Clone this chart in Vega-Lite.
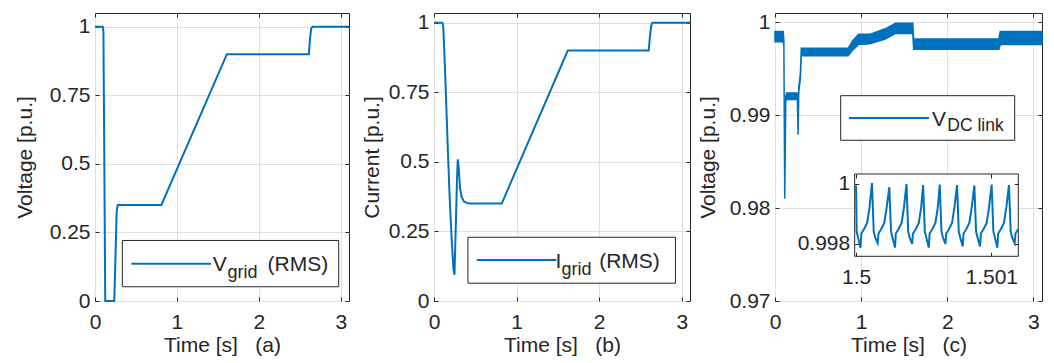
{
  "$schema": "https://vega.github.io/schema/vega-lite/v6.json",
  "background": "white",
  "padding": {"left": 13, "top": 10, "right": 4, "bottom": 2},
  "bounds": "flush",
  "spacing": 85,
  "config": {
    "font": "Liberation Sans",
    "view": {"stroke": "#262626", "strokeWidth": 1},
    "axis": {
      "labelFont": "Liberation Sans", "titleFont": "Liberation Sans",
      "labelFontSize": 21, "titleFontSize": 21, "titleFontWeight": "normal",
      "labelColor": "#262626", "titleColor": "#262626",
      "tickColor": "#262626", "tickSize": -4, "tickWidth": 1,
      "domain": false, "grid": false, "gridColor": "#dfdfdf", "gridWidth": 1,
      "labelFlush": false, "labelOverlap": false, "labelBound": false,
      "labelExpr": "format(datum.value, '~g')"
    },
    "axisBottom": {"labelPadding": 14, "titlePadding": 2},
    "axisLeft": {"labelPadding": 9},
    "axisTop": {"labels": false},
    "axisRight": {"labels": false}
  },
  "hconcat": [
    {
      "width": 254, "height": 288,
      "data": {"values": [
        {"t": 0, "v": 1}, {"t": 0.095, "v": 1}, {"t": 0.103, "v": 0.98}, {"t": 0.125, "v": 0},
        {"t": 0.235, "v": 0}, {"t": 0.265, "v": 0.33}, {"t": 0.277, "v": 0.35}, {"t": 0.81, "v": 0.35},
        {"t": 1.61, "v": 0.9}, {"t": 2.61, "v": 0.9}, {"t": 2.625, "v": 0.96}, {"t": 2.64, "v": 0.995},
        {"t": 2.655, "v": 1}, {"t": 3.1, "v": 1}
      ]},
      "layer": [
        {
          "mark": {"type": "line", "color": "#0072BD", "strokeWidth": 2},
          "encoding": {
            "x": {"field": "t", "type": "quantitative", "scale": {"domain": [0, 3.1], "nice": false, "zero": false},
                  "axis": {"orient": "bottom", "values": [0, 1, 2, 3], "grid": true, "title": "Time [s]\u00a0\u00a0\u00a0(a)"}},
            "y": {"field": "v", "type": "quantitative", "scale": {"domain": [0, 1.05], "nice": false, "zero": false},
                  "axis": {"orient": "left", "values": [0, 0.25, 0.5, 0.75, 1], "grid": true, "title": "Voltage [p.u.]", "titlePadding": 14}}
          }
        },
        {
          "mark": {"type": "line", "opacity": 0},
          "encoding": {
            "x": {"field": "t", "type": "quantitative", "axis": {"orient": "top", "values": [0, 1, 2, 3], "title": null}},
            "y": {"field": "v", "type": "quantitative", "axis": {"orient": "right", "values": [0, 0.25, 0.5, 0.75, 1], "title": null}}
          }
        },
        {
          "data": {"values": [{}]},
          "mark": {"type": "rect", "fill": "white", "stroke": "#262626", "strokeWidth": 1},
          "encoding": {
            "x": {"datum": 0.334, "type": "quantitative", "axis": null}, "x2": {"datum": 2.974},
            "y": {"datum": 0.052, "type": "quantitative", "axis": null}, "y2": {"datum": 0.2207}
          }
        },
        {
          "data": {"values": [{}]},
          "mark": {"type": "rule", "color": "#0072BD", "strokeWidth": 2},
          "encoding": {"x": {"datum": 0.444, "type": "quantitative", "axis": null}, "x2": {"datum": 1.416}, "y": {"datum": 0.1356, "type": "quantitative", "axis": null}}
        },
        {
          "data": {"values": [{}]},
          "mark": {"type": "text", "text": "V", "align": "left", "baseline": "alphabetic", "fontSize": 21, "color": "#262626"},
          "encoding": {"x": {"datum": 1.436, "type": "quantitative", "axis": null}, "y": {"datum": 0.109, "type": "quantitative", "axis": null}}
        },
        {
          "data": {"values": [{}]},
          "mark": {"type": "text", "text": "grid", "align": "left", "baseline": "alphabetic", "fontSize": 18, "color": "#262626"},
          "encoding": {"x": {"datum": 1.616, "type": "quantitative", "axis": null}, "y": {"datum": 0.084, "type": "quantitative", "axis": null}}
        },
        {
          "data": {"values": [{}]},
          "mark": {"type": "text", "text": "(RMS)", "align": "left", "baseline": "alphabetic", "fontSize": 21, "color": "#262626"},
          "encoding": {"x": {"datum": 2.105, "type": "quantitative", "axis": null}, "y": {"datum": 0.109, "type": "quantitative", "axis": null}}
        }
      ]
    },
    {
      "width": 256, "height": 288,
      "data": {"values": [
        {"t": 0, "v": 1}, {"t": 0.096, "v": 1}, {"t": 0.105, "v": 0.998}, {"t": 0.112, "v": 0.987},
        {"t": 0.136, "v": 0.812}, {"t": 0.164, "v": 0.572}, {"t": 0.192, "v": 0.355}, {"t": 0.216, "v": 0.211},
        {"t": 0.236, "v": 0.114}, {"t": 0.248, "v": 0.094}, {"t": 0.264, "v": 0.271}, {"t": 0.28, "v": 0.451},
        {"t": 0.288, "v": 0.509}, {"t": 0.3, "v": 0.475}, {"t": 0.316, "v": 0.403}, {"t": 0.336, "v": 0.373},
        {"t": 0.364, "v": 0.357}, {"t": 0.424, "v": 0.35}, {"t": 0.82, "v": 0.35}, {"t": 1.62, "v": 0.9},
        {"t": 2.6, "v": 0.9}, {"t": 2.615, "v": 0.95}, {"t": 2.63, "v": 0.99}, {"t": 2.645, "v": 1}, {"t": 3.1, "v": 1}
      ]},
      "layer": [
        {
          "mark": {"type": "line", "color": "#0072BD", "strokeWidth": 2},
          "encoding": {
            "x": {"field": "t", "type": "quantitative", "scale": {"domain": [0, 3.1], "nice": false, "zero": false},
                  "axis": {"orient": "bottom", "values": [0, 1, 2, 3], "grid": true, "title": "Time [s]\u00a0\u00a0\u00a0(b)"}},
            "y": {"field": "v", "type": "quantitative", "scale": {"domain": [0, 1.035], "nice": false, "zero": false},
                  "axis": {"orient": "left", "values": [0, 0.25, 0.5, 0.75, 1], "grid": true, "title": "Current [p.u.]", "titlePadding": 6}}
          }
        },
        {
          "mark": {"type": "line", "opacity": 0},
          "encoding": {
            "x": {"field": "t", "type": "quantitative", "axis": {"orient": "top", "values": [0, 1, 2, 3], "title": null}},
            "y": {"field": "v", "type": "quantitative", "axis": {"orient": "right", "values": [0, 0.25, 0.5, 0.75, 1], "title": null}}
          }
        },
        {
          "data": {"values": [{}]},
          "mark": {"type": "rect", "fill": "white", "stroke": "#262626", "strokeWidth": 1},
          "encoding": {
            "x": {"datum": 0.411, "type": "quantitative", "axis": null}, "x2": {"datum": 2.924},
            "y": {"datum": 0.064, "type": "quantitative", "axis": null}, "y2": {"datum": 0.229}
          }
        },
        {
          "data": {"values": [{}]},
          "mark": {"type": "rule", "color": "#0072BD", "strokeWidth": 2},
          "encoding": {"x": {"datum": 0.517, "type": "quantitative", "axis": null}, "x2": {"datum": 1.482}, "y": {"datum": 0.147, "type": "quantitative", "axis": null}}
        },
        {
          "data": {"values": [{}]},
          "mark": {"type": "text", "text": "I", "align": "left", "baseline": "alphabetic", "fontSize": 21, "color": "#262626"},
          "encoding": {"x": {"datum": 1.47, "type": "quantitative", "axis": null}, "y": {"datum": 0.118, "type": "quantitative", "axis": null}}
        },
        {
          "data": {"values": [{}]},
          "mark": {"type": "text", "text": "grid", "align": "left", "baseline": "alphabetic", "fontSize": 18, "color": "#262626"},
          "encoding": {"x": {"datum": 1.545, "type": "quantitative", "axis": null}, "y": {"datum": 0.094, "type": "quantitative", "axis": null}}
        },
        {
          "data": {"values": [{}]},
          "mark": {"type": "text", "text": "(RMS)", "align": "left", "baseline": "alphabetic", "fontSize": 21, "color": "#262626"},
          "encoding": {"x": {"datum": 2.0, "type": "quantitative", "axis": null}, "y": {"datum": 0.118, "type": "quantitative", "axis": null}}
        }
      ]
    },
    {
      "width": 267, "height": 288,
      "resolve": {"scale": {"x": "independent", "y": "independent"}},
      "layer": [
        {
          "data": {"values": [
            {"t": 0, "lo": 0.9979, "hi": 0.999}, {"t": 0.095, "lo": 0.9979, "hi": 0.999},
            {"t": 0.103, "lo": 0.9975, "hi": 0.998}, {"t": 0.113, "lo": 0.981, "hi": 0.9812},
            {"t": 0.125, "lo": 0.9915, "hi": 0.992}, {"t": 0.135, "lo": 0.9917, "hi": 0.9924},
            {"t": 0.26, "lo": 0.9917, "hi": 0.9924}, {"t": 0.268, "lo": 0.9879, "hi": 0.9882},
            {"t": 0.276, "lo": 0.9925, "hi": 0.993}, {"t": 0.295, "lo": 0.994, "hi": 0.9945},
            {"t": 0.305, "lo": 0.9964, "hi": 0.9972}, {"t": 0.85, "lo": 0.9964, "hi": 0.9972},
            {"t": 0.9, "lo": 0.997, "hi": 0.998}, {"t": 0.97, "lo": 0.9976, "hi": 0.9987},
            {"t": 1.1, "lo": 0.9977, "hi": 0.9987}, {"t": 1.28, "lo": 0.9982, "hi": 0.9993},
            {"t": 1.4, "lo": 0.9988, "hi": 0.9999}, {"t": 1.6, "lo": 0.9988, "hi": 0.9999},
            {"t": 1.61, "lo": 0.9971, "hi": 0.9982}, {"t": 2.6, "lo": 0.9971, "hi": 0.9982},
            {"t": 2.615, "lo": 0.9976, "hi": 0.999}, {"t": 3.1, "lo": 0.9976, "hi": 0.999}
          ]},
          "layer": [
            {
              "mark": {"type": "area", "color": "#0072BD", "stroke": "#0072BD", "strokeWidth": 1.5},
              "encoding": {
                "x": {"field": "t", "type": "quantitative", "scale": {"domain": [0, 3.1], "nice": false, "zero": false},
                      "axis": {"orient": "bottom", "values": [0, 1, 2, 3], "grid": true, "title": "Time [s]\u00a0\u00a0\u00a0(c)"}},
                "y": {"field": "lo", "type": "quantitative", "scale": {"domain": [0.97, 1.001], "nice": false, "zero": false},
                      "axis": {"orient": "left", "values": [0.97, 0.98, 0.99, 1], "grid": true, "title": "Voltage [p.u.]", "titlePadding": 11}},
                "y2": {"field": "hi"}
              }
            },
            {
              "mark": {"type": "line", "opacity": 0},
              "encoding": {
                "x": {"field": "t", "type": "quantitative", "axis": {"orient": "top", "values": [0, 1, 2, 3], "title": null}},
                "y": {"field": "lo", "type": "quantitative", "axis": {"orient": "right", "values": [0.97, 0.98, 0.99, 1], "title": null}}
              }
            },
            {
              "data": {"values": [{}]},
              "mark": {"type": "rect", "fill": "white", "stroke": "#262626", "strokeWidth": 1},
              "encoding": {
                "x": {"datum": 0.763, "type": "quantitative", "axis": null}, "x2": {"datum": 2.783},
                "y": {"datum": 0.9873, "type": "quantitative", "axis": null}, "y2": {"datum": 0.9921}
              }
            },
            {
              "data": {"values": [{}]},
              "mark": {"type": "rule", "color": "#0072BD", "strokeWidth": 2},
              "encoding": {"x": {"datum": 0.859, "type": "quantitative", "axis": null}, "x2": {"datum": 1.788}, "y": {"datum": 0.9897, "type": "quantitative", "axis": null}}
            },
            {
              "data": {"values": [{}]},
              "mark": {"type": "text", "text": "V", "align": "left", "baseline": "alphabetic", "fontSize": 21, "color": "#262626"},
              "encoding": {"x": {"datum": 1.823, "type": "quantitative", "axis": null}, "y": {"datum": 0.98884, "type": "quantitative", "axis": null}}
            },
            {
              "data": {"values": [{}]},
              "mark": {"type": "text", "text": "DC link", "align": "left", "baseline": "alphabetic", "fontSize": 17.5, "color": "#262626"},
              "encoding": {"x": {"datum": 2.0, "type": "quantitative", "axis": null}, "y": {"datum": 0.98827, "type": "quantitative", "axis": null}}
            }
          ]
        },
        {
          "data": {"values": [
            {"t": 1.5, "v": 0.99995}, {"t": 1.5000045, "v": 0.99842}, {"t": 1.5000155, "v": 0.9982},
            {"t": 1.500033, "v": 0.99787}, {"t": 1.500039, "v": 0.99835}, {"t": 1.5000575, "v": 0.99848},
            {"t": 1.500082, "v": 0.9987}, {"t": 1.500099, "v": 0.9992},
            {"t": 1.500118, "v": 1.00003}, {"t": 1.5001305, "v": 0.99842}, {"t": 1.5001425, "v": 0.9982},
            {"t": 1.50016, "v": 0.99803}, {"t": 1.500166, "v": 0.99835}, {"t": 1.5001845, "v": 0.99848},
            {"t": 1.500209, "v": 0.9987}, {"t": 1.500226, "v": 0.9992},
            {"t": 1.500246, "v": 0.99989}, {"t": 1.5002585, "v": 0.99842}, {"t": 1.5002705, "v": 0.9982},
            {"t": 1.500288, "v": 0.99788}, {"t": 1.500294, "v": 0.99835}, {"t": 1.5003125, "v": 0.99848},
            {"t": 1.500337, "v": 0.9987}, {"t": 1.500354, "v": 0.9992},
            {"t": 1.500373, "v": 1.0}, {"t": 1.5003855, "v": 0.99842}, {"t": 1.5003975, "v": 0.9982},
            {"t": 1.500415, "v": 0.998}, {"t": 1.500421, "v": 0.99835}, {"t": 1.5004395, "v": 0.99848},
            {"t": 1.500464, "v": 0.9987}, {"t": 1.500481, "v": 0.9992},
            {"t": 1.500496, "v": 0.99996}, {"t": 1.5005085, "v": 0.99842}, {"t": 1.5005205, "v": 0.9982},
            {"t": 1.500538, "v": 0.99788}, {"t": 1.500544, "v": 0.99835}, {"t": 1.5005625, "v": 0.99848},
            {"t": 1.500587, "v": 0.9987}, {"t": 1.500604, "v": 0.9992},
            {"t": 1.500619, "v": 0.99998}, {"t": 1.5006315, "v": 0.99842}, {"t": 1.5006435, "v": 0.9982},
            {"t": 1.500661, "v": 0.998}, {"t": 1.500667, "v": 0.99835}, {"t": 1.5006855, "v": 0.99848},
            {"t": 1.50071, "v": 0.9987}, {"t": 1.500727, "v": 0.9992},
            {"t": 1.500747, "v": 0.99996}, {"t": 1.5007595, "v": 0.99842}, {"t": 1.5007715, "v": 0.9982},
            {"t": 1.500789, "v": 0.99792}, {"t": 1.500795, "v": 0.99835}, {"t": 1.5008135, "v": 0.99848},
            {"t": 1.500838, "v": 0.9987}, {"t": 1.500855, "v": 0.9992},
            {"t": 1.500875, "v": 0.99995}, {"t": 1.5008875, "v": 0.99842}, {"t": 1.5008995, "v": 0.9982},
            {"t": 1.500917, "v": 0.99792}, {"t": 1.500923, "v": 0.99835}, {"t": 1.5009415, "v": 0.99848},
            {"t": 1.500966, "v": 0.9987}, {"t": 1.500983, "v": 0.9992},
            {"t": 1.501003, "v": 0.99998}, {"t": 1.5010155, "v": 0.99842}, {"t": 1.5010275, "v": 0.9982},
            {"t": 1.501045, "v": 0.99788}, {"t": 1.501051, "v": 0.99835}, {"t": 1.5010695, "v": 0.99848},
            {"t": 1.501094, "v": 0.9987}, {"t": 1.501111, "v": 0.9992},
            {"t": 1.501131, "v": 0.99996}, {"t": 1.5011435, "v": 0.99842}, {"t": 1.5011555, "v": 0.9982},
            {"t": 1.501173, "v": 0.99803}, {"t": 1.501179, "v": 0.99835}, {"t": 1.5012, "v": 0.9985}
          ]},
          "layer": [
            {
              "data": {"values": [{}]},
              "mark": {"type": "rect", "fill": "white", "stroke": "#262626", "strokeWidth": 1},
              "encoding": {
                "x": {"datum": 1.49999, "type": "quantitative", "scale": {"domain": [1.49999, 1.5012], "range": [79.7, 243.3], "nice": false, "zero": false}, "axis": null},
                "x2": {"datum": 1.5012},
                "y": {"datum": 0.99759, "type": "quantitative", "scale": {"domain": [0.99759, 1.00033], "range": [243.3, 161], "nice": false, "zero": false}, "axis": null},
                "y2": {"datum": 1.00033}
              }
            },
            {
              "mark": {"type": "line", "color": "#0072BD", "strokeWidth": 2},
              "encoding": {
                "x": {"field": "t", "type": "quantitative", "scale": {"domain": [1.49999, 1.5012], "range": [79.7, 243.3], "nice": false, "zero": false},
                      "axis": {"orient": "bottom", "offset": -44.7, "values": [1.5, 1.501], "title": null, "zindex": 1}},
                "y": {"field": "v", "type": "quantitative", "scale": {"domain": [0.99759, 1.00033], "range": [243.3, 161], "nice": false, "zero": false},
                      "axis": {"orient": "left", "offset": -79.7, "values": [0.998, 1], "title": null, "zindex": 1}}
              }
            },
            {
              "mark": {"type": "line", "opacity": 0},
              "encoding": {
                "x": {"field": "t", "type": "quantitative", "axis": {"orient": "top", "offset": -161, "values": [1.5, 1.501], "title": null, "zindex": 1}},
                "y": {"field": "v", "type": "quantitative", "axis": {"orient": "right", "offset": -23.7, "values": [0.998, 1], "title": null, "zindex": 1}}
              }
            }
          ]
        }
      ]
    }
  ]
}
